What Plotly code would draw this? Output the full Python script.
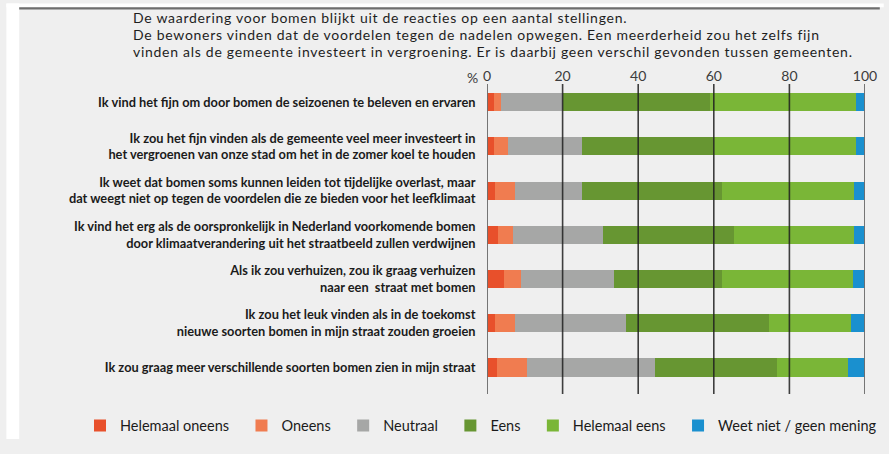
import plotly.graph_objects as go

categories = [
    "Ik vind het fijn om door bomen de seizoenen te beleven en ervaren",
    "Ik zou het fijn vinden als de gemeente veel meer investeert in<br>het vergroenen van onze stad om het in de zomer koel te houden",
    "Ik weet dat bomen soms kunnen leiden tot tijdelijke overlast, maar<br>dat weegt niet op tegen de voordelen die ze bieden voor het leefklimaat",
    "Ik vind het erg als de oorspronkelijk in Nederland voorkomende bomen<br>door klimaatverandering uit het straatbeeld zullen verdwijnen",
    "Als ik zou verhuizen, zou ik graag verhuizen<br>naar een  straat met bomen",
    "Ik zou het leuk vinden als in de toekomst<br>nieuwe soorten bomen in mijn straat zouden groeien",
    "Ik zou graag meer verschillende soorten bomen zien in mijn straat",
]

series_names = ["Helemaal oneens", "Oneens", "Neutraal", "Eens", "Helemaal eens", "Weet niet / geen mening"]
helemaal_oneens = [1.9, 1.9, 2.2, 3.0, 4.4, 2.2, 2.7]
oneens = [1.8, 3.6, 5.1, 3.9, 4.7, 5.1, 7.8]
neutraal = [16.3, 19.7, 17.9, 23.7, 24.4, 29.4, 34.0]
eens = [39.0, 34.6, 37.0, 34.7, 28.7, 37.9, 32.3]
helemaal_eens = [38.6, 37.8, 34.9, 31.8, 34.7, 21.6, 18.7]
weet_niet = [2.4, 2.4, 2.9, 2.9, 3.1, 3.8, 4.5]

x_ticks = [0, 20, 40, 60, 80, 100]

title_lines = [
    "De waardering voor bomen blijkt uit de reacties op een aantal stellingen.",
    "De bewoners vinden dat de voordelen tegen de nadelen opwegen. Een meerderheid zou het zelfs fijn",
    "vinden als de gemeente investeert in vergroening. Er is daarbij geen verschil gevonden tussen gemeenten.",
]

colors = ["#e8502b", "#f07c50", "#a6a7a6", "#679632", "#7ab637", "#1a90cf"]
FONT = "Lato, 'Open Sans', sans-serif"

W, H = 889, 454
L, R, T, B = 487, 19, 84, 47
pw, ph = W - L - R, H - T - B

def px_x(px):
    return (px - L) / pw

def px_y(py):
    return (H - B - py) / ph

fig = go.Figure()
for name, vals, col in zip(series_names,
                           [helemaal_oneens, oneens, neutraal, eens, helemaal_eens, weet_niet],
                           colors):
    fig.add_trace(go.Bar(
        y=categories, x=vals, name=name + "\u00a0\u00a0", orientation="h",
        marker=dict(color=col, line=dict(width=0)),
        hovertemplate=name + ": %{x}<extra></extra>",
    ))

shapes = []
# page background: white margins, gray panel, dark top rule
shapes.append(dict(type="rect", xref="paper", yref="paper", layer="below",
                   x0=px_x(0), x1=px_x(13), y0=px_y(H), y1=px_y(0),
                   fillcolor="white", line=dict(width=0)))
shapes.append(dict(type="rect", xref="paper", yref="paper", layer="below",
                   x0=px_x(0), x1=px_x(W), y0=px_y(4), y1=px_y(0),
                   fillcolor="white", line=dict(width=0)))
shapes.append(dict(type="rect", xref="paper", yref="paper", layer="below",
                   x0=px_x(13), x1=px_x(885), y0=px_y(6.5), y1=px_y(4),
                   fillcolor="#6e6e6e", line=dict(width=0)))
for v in x_ticks:
    edge = v in (x_ticks[0], x_ticks[-1])
    shapes.append(dict(type="line", xref="x", yref="paper", layer="above",
                       x0=v, x1=v, y0=0, y1=1,
                       line=dict(color="rgba(110,110,110,0.95)" if edge else "rgba(30,30,30,0.85)",
                                 width=2 if edge else 1.6)))

title_html = "<br>".join(
    "<span style='font-size:14px;letter-spacing:0.72px'>" + t + "</span>" for t in title_lines)
annotations = [
    dict(text=title_html, xref="paper", yref="paper", align="left",
         x=px_x(126), y=px_y(32.5), xanchor="left", yanchor="middle",
         showarrow=False, font=dict(family=FONT, size=13.1, color="#1e1e1e")),
    dict(text="%", xref="paper", yref="paper", x=px_x(480), y=px_y(77),
         xanchor="right", yanchor="middle", showarrow=False,
         font=dict(family=FONT, size=14, color="#3c3c3c")),
]

fig.update_layout(
    width=W, height=H,
    margin=dict(l=L, r=R, t=T, b=B, pad=0),
    barmode="stack",
    bargap=0.59,
    paper_bgcolor="#efefef",
    plot_bgcolor="#efefef",
    font=dict(family=FONT, color="#1b1b1b"),
    shapes=shapes,
    annotations=annotations,
    showlegend=True,
    legend=dict(orientation="h", x=px_x(91), y=px_y(440), xanchor="left", yanchor="middle",
                bgcolor="rgba(0,0,0,0)", font=dict(family=FONT, size=14.5, color="#1b1b1b"),
                traceorder="normal"),
    xaxis=dict(range=[0, 100], side="top", tickvals=x_ticks, ticktext=[str(v) for v in x_ticks],
               showgrid=False, zeroline=False, showline=False,
               ticks="outside", ticklen=2, tickcolor="rgba(0,0,0,0)", ticklabelstandoff=-6,
               tickfont=dict(family=FONT, size=14, color="#3c3c3c"), fixedrange=True),
    yaxis=dict(categoryorder="array", categoryarray=categories, range=[6.6, -0.41],
               showgrid=False, zeroline=False, showline=False,
               ticks="outside", ticklen=8, tickcolor="rgba(0,0,0,0)",
               tickvals=categories, ticktext=["<b>" + c.replace("<br>", "</b><br><b>") + "</b>" for c in categories],
               tickfont=dict(family=FONT, size=12.8, color="#1b1b1b"), fixedrange=True),
)

fig.write_html(
    "out.html",
    config={"displayModeBar": False},
    post_script="document.body.style.margin='0';",
)
